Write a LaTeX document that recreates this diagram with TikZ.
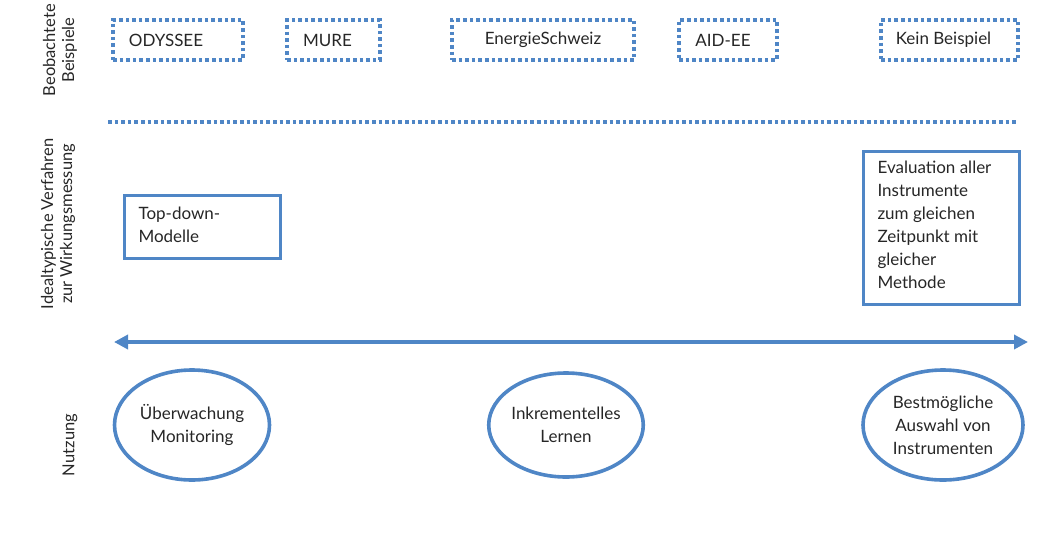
\documentclass[tikz,border=0pt]{standalone}
\usepackage{fontspec}
\setmainfont{Lato}
\usepackage{tikz}
\usetikzlibrary{arrows.meta,positioning,shapes.geometric}
\definecolor{bblue}{RGB}{79,134,198}
\definecolor{tgray}{RGB}{38,38,38}
\begin{document}
\begin{tikzpicture}[x=1pt,y=-1pt,
  every node/.style={text=tgray,font=\fontsize{17}{23}\selectfont},
  example/.style={draw=bblue,line width=3.6pt,dash pattern=on 3.6pt off 3pt,minimum height=40pt,inner sep=0pt},
  method/.style={draw=bblue,line width=3.2pt,anchor=north west,inner sep=0pt},
  usage/.style={draw=bblue,line width=3.6pt,ellipse,inner sep=0pt,align=center},
  side/.style={rotate=90,align=center,font=\fontsize{16.5}{19}\selectfont}]
\useasboundingbox (0,0) rectangle (1040,535);
% Beobachtete Beispiele
\node[example,minimum width=130pt] (odyssee) at (178,40) {\hspace*{-24pt}ODYSSEE};
\node[example,minimum width=93pt] (mure) at (333.5,40) {\hspace*{-12pt}MURE};
\node[example,minimum width=182pt] (energie) at (543,40) {EnergieSchweiz};
\node[example,minimum width=98pt] (aidee) at (728,40) {\hspace*{-10pt}AID-EE};
\node[example,minimum width=137pt] (kein) at (949.5,40) {\hspace*{-12pt}Kein Beispiel};
\coordinate (sep_left) at (108,122);
\coordinate (sep_right) at (1018,122);
\draw[bblue,line width=3.6pt,dash pattern=on 3.6pt off 3pt] (sep_left) -- (sep_right);
% Idealtypische Verfahren
\node[method,minimum width=156pt,minimum height=63pt] (topdown) at (123,194) {};
\node[anchor=north west,align=left] (topdown_text) at (135,203) {Top-down-\\Modelle};
\node[method,minimum width=156pt,minimum height=153pt] (evaluation) at (862,150) {};
\node[anchor=north west,align=left] (evaluation_text) at (874,157)
  {Evaluation aller\\Instrumente\\zum gleichen\\Zeitpunkt mit\\gleicher\\Methode};
% Achse
\coordinate (axis_left) at (114,342);
\coordinate (axis_right) at (1028,342);
\draw[bblue,line width=4pt,{Triangle[length=14pt,width=14pt]}-{Triangle[length=14pt,width=14pt]}] (axis_left) -- (axis_right);
% Nutzung
\node[usage,minimum width=155pt,minimum height=110pt] (monitoring) at (192,425) {\"Uberwachung\\Monitoring};
\node[usage,minimum width=154pt,minimum height=104pt] (lernen) at (566,425) {Inkrementelles\\Lernen};
\node[usage,minimum width=160pt,minimum height=110pt] (auswahl) at (943,425) {Bestm\"ogliche\\Auswahl von\\Instrumenten};
% Zeilenbeschriftung
\node[side] (row_beispiele) at (60,50) {Beobachtete\\Beispiele};
\node[side] (row_verfahren) at (58,224) {Idealtypische Verfahren\\zur Wirkungsmessung};
\node[side] (row_nutzung) at (70,445) {Nutzung};
\end{tikzpicture}
\end{document}
